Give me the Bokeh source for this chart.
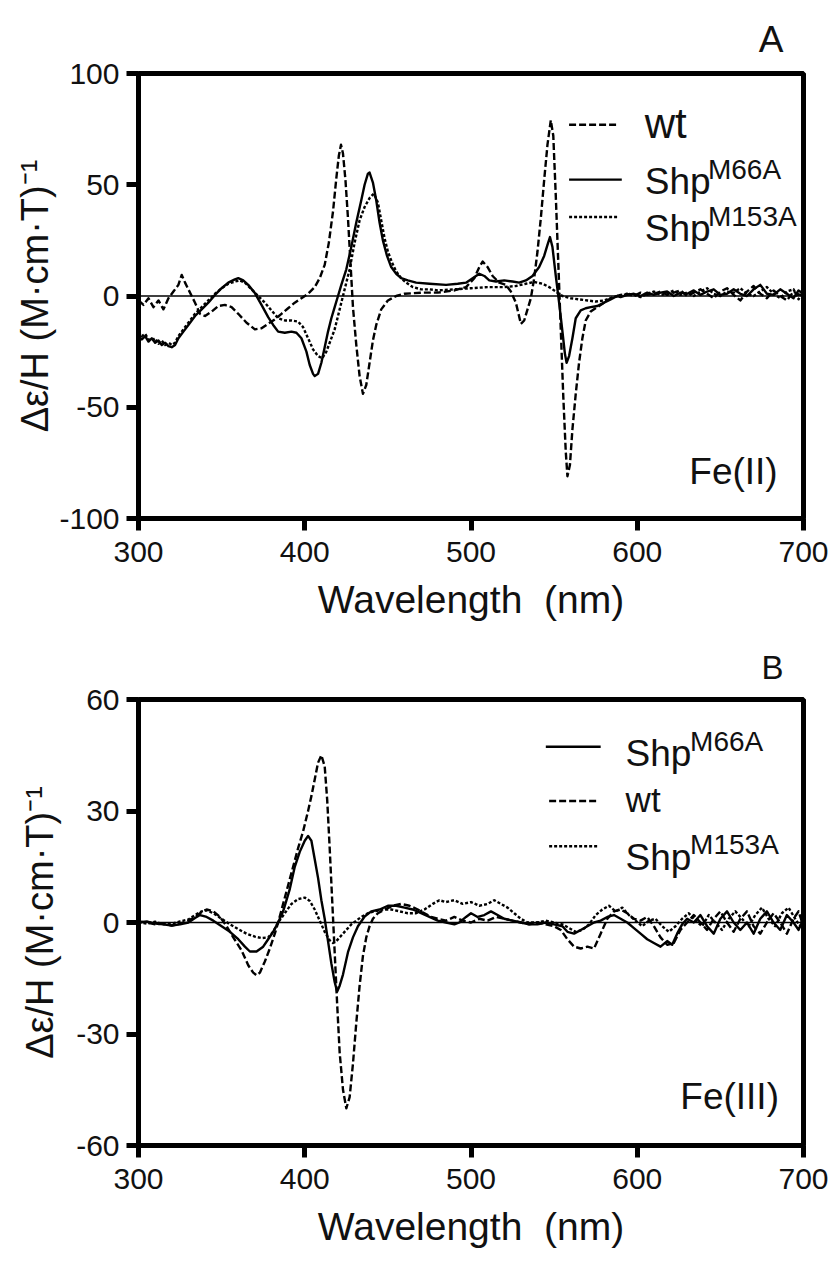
from bokeh.plotting import figure
from bokeh.models import Range1d, FixedTicker, Span, Label, Title
from bokeh.layouts import column
from bokeh.embed import file_html
from bokeh.resources import INLINE

FONT = "Liberation Sans"

# ---------------- Panel A : Fe(II) ----------------
fe2_xticks = [300, 400, 500, 600, 700]
fe2_yticks = [-100, -50, 0, 50, 100]

fe2_wt = [(300, -2), (303, -4), (306, -1), (309, -5), (312, -2), (315, -6), (318, -1), (321, 2),
          (324, 5), (326, 9.5), (328, 6), (330, 3), (332, 0), (334, -3), (337, -8), (340, -9),
          (344, -7), (348, -4.5), (352, -4), (356, -5), (360, -8), (365, -12), (370, -15),
          (374, -14.5), (378, -12.5), (382, -10.5), (386, -8), (390, -5.5), (394, -3), (398, -1),
          (402, 1), (406, 4), (409, 8), (412, 14), (414.5, 24), (417, 38), (419, 53), (420.5, 63),
          (421.8, 68), (423, 64), (424.5, 52), (426, 35), (427.5, 15), (429, -5), (431, -22),
          (433, -36), (435, -44), (437, -40), (439, -30), (441, -20), (443, -13), (446, -6),
          (450, -2), (455, 0), (460, 1), (470, 1.5), (480, 1.5), (490, 2.5), (497, 4), (502, 8),
          (505, 13), (507, 15.5), (510, 13), (513, 9), (517, 6), (521, 5), (524, 2), (527, -3),
          (530, -12.5), (532, -11), (534, -6), (536, -1), (538, 8), (540, 20), (542, 35), (544, 52),
          (546, 68), (548, 79), (549.5, 72), (551, 45), (552.5, 15), (554, -15), (555.5, -45),
          (557, -70), (558, -81), (559.5, -76), (561, -60), (563, -44), (565, -30), (567, -19),
          (569, -11), (572, -7), (576, -5), (580, -3), (584, -1), (588, 0),
          (590, 0.5), (594, 1), (598, 0), (602, 1.5), (606, 0.5), (610, 1), (614, 2), (618, 0.5),
          (622, 1.5), (626, 2.5), (630, 0), (634, 1.5), (638, 3), (642, 1), (646, -1), (650, 2),
          (654, 3.5), (658, 0.5), (662, -2), (666, 2), (670, 4.5), (674, 1), (678, -1), (682, 2.5),
          (686, 0), (690, -2), (694, 2), (697, 0.5), (700, 2)]

fe2_m66a = [(300, -18), (302, -19.5), (304, -18), (306, -20.5), (308, -19), (310, -21), (312, -20),
            (314, -22), (316, -21), (318, -22.5), (320, -23), (322, -22), (324, -19), (327, -16),
            (330, -13), (334, -9), (338, -6), (342, -3), (346, 0.5), (350, 3.5), (354, 6), (358, 7.5),
            (360, 8), (363, 7), (366, 5), (370, 1.3), (374, -4), (378, -9.5), (381, -13), (384, -16),
            (388, -16.5), (392, -16), (395, -16.5), (398, -19), (401, -25), (403, -31), (405, -35),
            (406, -36), (408, -35), (410, -30), (412, -23), (414, -16), (416, -10), (418, -5),
            (420, 0), (422, 5), (425, 12), (428, 22), (431, 33), (434, 43), (436, 50), (438, 55),
            (439, 55.5), (441, 51), (443, 43), (445, 33), (447, 25), (449.5, 18), (452, 13),
            (455, 10), (458, 8), (462, 7), (467, 6), (475, 5.5), (485, 5), (492, 5.5), (497, 6),
            (501, 8), (505, 10), (508, 9), (511, 7), (515, 6.5), (520, 7), (525, 6.5), (529, 6),
            (533, 7), (537, 9), (541, 13), (544, 18), (546, 23), (547.5, 26.5), (549, 22), (551, 9),
            (553, -3), (555, -16), (556.5, -26), (557.5, -30), (559, -27), (561, -19), (563, -10),
            (566, -6.5), (569, -5.5), (572, -5), (576, -4.5), (580, -3), (584, -1.5), (588, 0),
            (590, -0.5), (594, 0.5), (598, 1), (602, 0), (606, 1.5), (610, 0.5), (614, 1.5),
            (618, 2), (622, 0), (626, 1.5), (630, 1), (634, 2.5), (638, 0.5), (642, 2), (646, 3),
            (650, 0.5), (654, 1), (658, 3), (662, 1), (666, 0), (670, 3), (674, 5), (678, 1),
            (682, 0.5), (686, 3), (690, 1), (694, -1), (697, 2.5), (700, 1)]

fe2_m153a = [(300, -16), (302, -18), (304, -17), (306, -19.5), (308, -20), (310, -19), (312, -21.5),
             (314, -20), (316, -22), (318, -21), (320, -22), (322, -21), (324, -18), (327, -15),
             (330, -12), (334, -8), (338, -5), (342, -2), (346, 1), (350, 3.5), (354, 5.5),
             (358, 6.5), (361, 7), (364, 6), (368, 3), (372, 0), (376, -3), (380, -6.5), (384, -10),
             (388, -11), (392, -11), (396, -11.5), (399, -14), (402, -19), (405, -24), (408, -27),
             (410.5, -28), (413, -25), (415, -21), (418, -15), (420, -9), (422, -3), (424, 3),
             (427, 12), (430, 24), (433, 34), (436, 40), (439, 44), (441.5, 46), (444, 42),
             (446, 34), (448, 26), (450, 20), (452.5, 15), (455, 11), (458, 8), (461, 6), (465, 4),
             (470, 3), (475, 3), (480, 2.5), (490, 3), (500, 3.5), (510, 4), (520, 4), (527, 4.5),
             (533, 5.5), (538, 6.3), (543, 5.5), (547, 4), (551, 2), (555, 0), (560, -1),
             (565, -1.5), (570, -2), (575, -2.5), (580, -2), (584, -1), (588, 0),
             (590, 0), (594, 1), (598, 0.5), (602, -0.5), (606, 1), (610, 2), (614, 0.5), (618, 1),
             (622, 2.5), (626, 0.5), (630, 1.5), (634, 0), (638, 2), (642, 3.5), (646, 1), (650, 0),
             (654, 2), (658, 1.5), (662, 3.5), (666, 1), (670, 0), (674, 2), (678, 4), (682, 1),
             (686, -1), (690, 2), (694, 3), (697, -1.5), (700, 2.5)]

# ---------------- Panel B : Fe(III) ----------------
fe3_xticks = [300, 400, 500, 600, 700]
fe3_yticks = [-60, -30, 0, 30, 60]

fe3_m66a = [(300, 0), (305, 0.3), (310, -0.3), (315, -0.5), (320, -0.8), (325, -0.5), (330, 0),
            (334, 1.2), (337, 2), (341, 1.5), (345, 0.5), (350, -1), (355, -2.5), (360, -4.5),
            (364, -6.5), (367, -7.8), (371, -7.8), (375, -6.5), (378, -4.5), (381, -2.5), (384, 0),
            (387, 3), (391, 9), (394, 15), (397, 19), (400, 22), (402, 23.3), (404, 22), (406, 17),
            (408, 12), (410, 6), (412, 1), (414, -5), (416, -11), (418, -16), (419.5, -18.6),
            (421, -17), (423, -14), (426, -8), (429, -4), (432, -1), (436, 1.6), (440, 3),
            (445, 3.5), (450, 4.5), (455, 4.5), (460, 4), (465, 3.5), (470, 2.5), (475, 1.5),
            (480, 0.5), (485, 0), (490, -0.5), (493, 0), (497, 1.5), (500, 2.5), (504, 1.5),
            (508, 2), (512, 3), (516, 2), (520, 1), (525, 0.5), (530, 0), (535, -0.5), (540, -0.5),
            (545, 0), (550, -0.5), (555, -1), (558, -2.5), (562, -3), (566, -2), (570, -1),
            (574, 0), (578, 0.5), (582, 1.5), (586, 2), (590, 1), (594, 0), (598, -1.5), (602, -3),
            (606, -4.5), (610, -5.5), (614, -6.5), (618, -5), (621, -6), (624, -3), (627, -0.5),
            (630, 1), (634, 0), (638, 2), (642, -1), (646, -3), (650, 1), (654, 3), (658, 0),
            (662, -2), (666, 0), (670, -3), (674, 1), (678, 3), (682, 0), (686, -2), (690, 2),
            (694, 0), (697, -2), (700, 1)]

fe3_wt = [(300, 0.3), (305, 0), (310, -0.5), (315, -0.3), (320, -0.8), (325, -0.3), (330, 0.5),
          (334, 1.5), (338, 2.8), (341, 3.5), (345, 3), (349, 1.5), (353, -1), (357, -4),
          (362, -7.5), (366, -11.5), (369, -13.5), (371, -14.2), (373, -13.5), (376, -10.5),
          (379, -7), (382, -3), (384, 0), (387, 5), (390, 10), (393, 15), (396, 20), (399, 24.5),
          (402, 30), (404, 34), (406, 38.5), (408, 43), (410, 45), (412, 42), (413.5, 33),
          (415, 20), (416.5, 6), (418, -8), (419.5, -22), (421, -35), (423, -45), (425, -50),
          (427, -47), (429, -38), (431, -27), (433, -17), (435, -9), (437, -4), (439, -1),
          (441, 1), (444, 2.5), (448, 3.5), (453, 4.5), (458, 5), (463, 4.5), (468, 3.5),
          (472, 2.5), (476, 1.5), (480, 1), (485, 0.5), (490, 1.5), (495, 0.5), (500, 0),
          (505, 1), (510, 0.5), (515, 1.5), (520, 1), (525, 0.5), (530, 0), (535, -0.5), (540, 0),
          (545, -0.5), (550, -1), (554, -2), (558, -4.5), (562, -6.5), (566, -7), (570, -6.5),
          (574, -7), (578, -3), (582, 1), (586, 3), (590, 3.5), (594, 2.5), (598, 1), (602, 0.5),
          (606, 1.5), (610, -1), (614, -4), (618, -6), (622, -5.5), (626, -2), (630, 0), (634, 2),
          (638, 0), (642, -2), (646, 1), (650, 3), (654, 0), (658, -2.5), (662, 1), (666, 3),
          (670, -1), (674, -3), (678, 0), (682, 2.5), (686, 0), (690, -3), (694, 1), (697, 3),
          (700, -1)]

fe3_m153a = [(300, 0), (305, -0.3), (310, 0.2), (315, -0.5), (320, -0.3), (325, 0.3), (330, 0.8),
             (334, 2), (338, 3), (341, 3.3), (345, 2.5), (350, 1), (355, -0.5), (360, -1.8),
             (365, -3), (370, -3.8), (374, -4.2), (378, -4), (381, -2.5), (384, 0), (388, 2.5),
             (392, 5), (396, 6.3), (400, 6.7), (403, 5.8), (406, 3.5), (409, 0.5), (412, -2.5),
             (415, -4.8), (417, -5.5), (419, -5), (422, -3.5), (425, -2), (428, -0.5), (431, 0.5),
             (434, 1.5), (438, 2.5), (442, 3), (447, 3.5), (452, 3.5), (457, 3), (462, 2.5),
             (467, 2.5), (472, 3.5), (477, 5), (481, 6), (485, 5.5), (490, 6), (495, 5),
             (500, 5.5), (505, 4.5), (510, 5), (514, 6), (518, 5), (522, 4), (526, 2.5), (530, 1),
             (534, 0), (540, 0), (545, 0.5), (550, 0), (555, -0.5), (559, -1.5), (563, -2.5),
             (567, -2), (571, -0.5), (575, 2), (579, 3.5), (583, 4.5), (587, 3), (591, 4), (595, 2),
             (599, 0.5), (603, -1), (607, 0.5), (611, 1), (615, -1), (619, -2.5), (623, -1),
             (627, 1), (631, 2.5), (635, 0.5), (639, -1), (643, 2), (647, 0), (651, -2), (655, 1),
             (659, 3), (663, 1), (667, -1), (671, 2), (675, 4), (679, 1), (683, -1), (687, 2.5),
             (691, 4), (695, 1), (698, -1), (700, 2)]

YLABEL = "\u0394\u03b5/H (M\u00b7cm\u00b7T)\u207b\u00b9"
XLABEL = "Wavelength\u00a0\u00a0(nm)"

DASH_WT = "7 3"
DASH_M153A = "3 2"
LW = 2.4


def base_fig(height, yrange, yticks, xticks, mb_left, mb_top, mb_bottom, mb_right, ylabel_standoff):
    p = figure(width=829, height=height, output_backend="svg", toolbar_location=None,
               x_range=Range1d(300, 700), y_range=Range1d(*yrange),
               min_border_left=mb_left, min_border_top=mb_top,
               min_border_bottom=mb_bottom, min_border_right=mb_right)
    p.grid.visible = False
    p.outline_line_color = "black"
    p.outline_line_width = 5
    p.xaxis.ticker = FixedTicker(ticks=xticks)
    p.yaxis.ticker = FixedTicker(ticks=yticks)
    p.yaxis.major_label_overrides = {t: str(t) for t in yticks}
    for axes in (p.xaxis, p.yaxis):
        axes.axis_line_width = 5
        axes.axis_line_color = "black"
        axes.major_tick_line_width = 5
        axes.major_tick_line_color = "black"
        axes.major_tick_out = 12
        axes.major_tick_in = 0
        axes.minor_tick_line_color = None
        axes.major_label_text_font = FONT
        axes.major_label_text_font_size = "30px"
        axes.major_label_text_color = "#111111"
        axes.axis_label_text_font = FONT
        axes.axis_label_text_font_style = "normal"
        axes.axis_label_text_color = "#111111"
    p.xaxis.major_label_standoff = 11
    p.yaxis.major_label_standoff = 7
    p.xaxis.axis_label = XLABEL
    p.xaxis.axis_label_text_font_size = "39px"
    p.xaxis.axis_label_standoff = 13
    p.yaxis.axis_label = YLABEL
    p.yaxis.axis_label_text_font_size = "38px"
    p.yaxis.axis_label_standoff = ylabel_standoff
    p.add_layout(Span(location=0, dimension="width", line_color="black", line_width=1.5))
    return p


def txt(p, x, y, s, size, align="left"):
    p.add_layout(Label(x=x, y=y, text=s, text_font=FONT, text_font_size=size,
                       text_align=align, text_baseline="alphabetic",
                       text_color="#111111"))


def sample(p, x0, x1, y, dash):
    # legend swatch
    p.line([x0, x1], [y, y], line_color="black", line_width=LW, line_dash=dash)


def plot_series(p, pts, dash):
    xs = [a for a, b in pts]
    ys = [b for a, b in pts]
    p.line(xs, ys, line_color="black", line_width=LW, line_dash=dash, line_join="round")


def panel_title(p, s, size, offset, standoff):
    p.add_layout(Title(text=s, align="right", offset=offset, standoff=standoff,
                       text_font=FONT, text_font_size=size, text_font_style="normal",
                       text_color="#111111"), "above")


# ---- figure A ----
p1 = base_fig(632, (-100, 100), fe2_yticks, fe2_xticks, 133, 73, 114, 26, 0)
plot_series(p1, fe2_m153a, DASH_M153A)
plot_series(p1, fe2_m66a, "solid")
plot_series(p1, fe2_wt, DASH_WT)

sample(p1, 559, 589, 77, DASH_WT)
sample(p1, 559, 590.7, 52.3, "solid")
sample(p1, 559, 589, 35.5, DASH_M153A)
txt(p1, 604.5, 77.5, "wt", "42px")
txt(p1, 604.5, 51.5, "Shp", "37px")
txt(p1, 642.5, 56.8, "M66A", "28px")
txt(p1, 604.5, 30.5, "Shp", "37px")
txt(p1, 642.5, 35.7, "M153A", "28px")
txt(p1, 631.3, -79.1, "Fe(II)", "37px")
panel_title(p1, "A", "37px", 20, 28)

# ---- figure B ----
p2 = base_fig(631, (-60, 60), fe3_yticks, fe3_xticks, 138, 67, 118, 22, 12)
plot_series(p2, fe3_m153a, DASH_M153A)
plot_series(p2, fe3_m66a, "solid")
plot_series(p2, fe3_wt, DASH_WT)

sample(p2, 545, 578, 47.3, "solid")
sample(p2, 547, 577, 32.7, DASH_WT)
sample(p2, 547, 577, 20.5, DASH_M153A)
txt(p2, 593, 45.5, "Shp", "37px")
txt(p2, 631.8, 48.7, "M66A", "28px")
txt(p2, 593, 33.1, "wt", "35px")
txt(p2, 593, 17.4, "Shp", "37px")
txt(p2, 631.8, 21.1, "M153A", "28px")
txt(p2, 625.9, -46.9, "Fe(III)", "37px")
panel_title(p2, "B", "33px", 20, 28)

layout = column(p1, p2)
open("out.html", "w").write(file_html(layout, INLINE))
